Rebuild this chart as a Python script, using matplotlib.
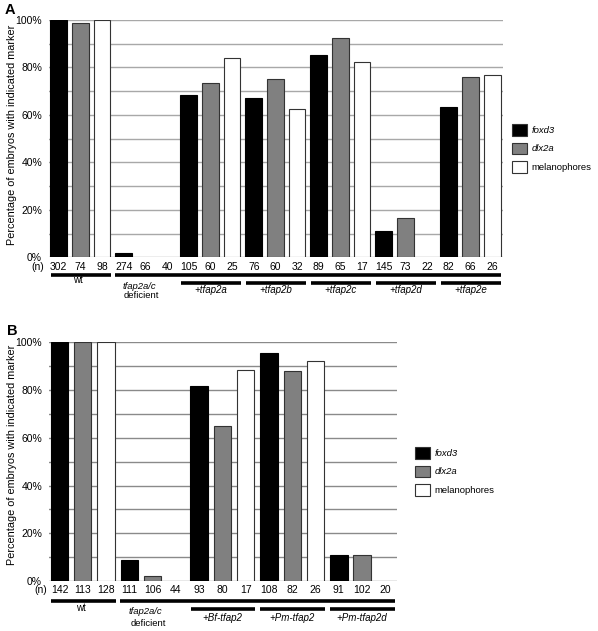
import matplotlib.pyplot as plt
import matplotlib.transforms as mtransforms
from matplotlib.patches import Patch

plt.rcParams['font.family'] = ['Liberation Sans', 'DejaVu Sans']
fs = 7.5

# panel A data (percent of embryos)
groups_a = ['wt', 'tfap2a/c', '+tfap2a', '+tfap2b', '+tfap2c', '+tfap2d', '+tfap2e']
foxd3_a = [100, 1.7, 68.6, 67.1, 85.4, 11.0, 63.4]
dlx2a_a = [98.6, 0, 73.3, 75.0, 92.3, 16.4, 75.8]
mel_a = [100, 0, 84.0, 62.5, 82.4, 0, 76.9]
n_a = [302, 74, 98, 274, 66, 40, 105, 60, 25, 76, 60, 32, 89, 65, 17, 145, 73, 22, 82, 66, 26]

# panel B data
groups_b = ['wt', 'tfap2a/c', '+Bf-tfap2', '+Pm-tfap2', '+Pm-tfap2d']
foxd3_b = [100, 9.0, 81.7, 95.4, 11.0]
dlx2a_b = [100, 1.9, 65.0, 87.8, 10.8]
mel_b = [100, 0, 88.2, 92.3, 0]
n_b = [142, 113, 128, 111, 106, 44, 93, 80, 17, 108, 82, 26, 91, 102, 20]

colors = ['black', '#808080', 'white']
markers = ['foxd3', 'dlx2a', 'melanophores']

W, H = 598, 631
fig = plt.figure(figsize=(W / 100, H / 100), dpi=100)


def px_axes(left, top, right, bottom):
    return fig.add_axes([left / W, 1 - bottom / H, (right - left) / W, (bottom - top) / H])


def panel(ax, groups, series, nvals, width, gridc, offs, hpx, nx, ylab_xy):
    ngroups = len(groups)
    for k, vals in enumerate(series):
        x = [3 * g + k for g in range(ngroups)]
        lw = [0.8 if v > 0 else 0 for v in vals]
        ax.bar(x, vals, width=width, color=colors[k],
               edgecolor='black' if k == 0 else '#333333', linewidth=lw, zorder=3)
    ax.set_xlim(-0.45, 3 * ngroups - 0.5)
    ax.set_ylim(0, 100)
    ax.set_yticks(range(0, 101, 10))
    ax.set_yticklabels([f'{v}%' if v % 20 == 0 else '' for v in range(0, 101, 10)], fontsize=fs)
    ax.tick_params(axis='y', length=0, pad=5)
    ax.set_xticks([])
    ax.grid(axis='y', color=gridc, linewidth=1.0, zorder=0)
    ax.set_axisbelow(True)
    for s in ax.spines.values():
        s.set_visible(False)
    ax.set_ylabel('Percentage of embryos with indicated marker', fontsize=7.8)
    ax.yaxis.set_label_coords(*ylab_xy)

    tr = mtransforms.blended_transform_factory(ax.transData, ax.transAxes)
    f = lambda p: -p / hpx
    for i, n in enumerate(nvals):
        ax.text(i, f(offs['n']), str(n), transform=tr, ha='center', va='center', fontsize=fs)
    ax.text(nx, f(offs['n']), '(n)', transform=tr, ha='right', va='center', fontsize=fs)

    last = 3 * (ngroups - 1) + 2.4
    ax.plot([-0.37, 2.42], [f(offs['l1'])] * 2, transform=tr, color='black', lw=2.6,
            solid_capstyle='butt', clip_on=False)
    ax.plot([2.6, last], [f(offs['l1'])] * 2, transform=tr, color='black', lw=2.6,
            solid_capstyle='butt', clip_on=False)
    ax.text(0.9, f(offs['wt']), 'wt', transform=tr, ha='center', va='center', fontsize=7)
    ax.text(3.7, f(offs['tf']), groups[1], transform=tr, ha='center', va='center',
            fontsize=6.8, style='italic')
    ax.text(3.8, f(offs['dfc']), 'deficient', transform=tr, ha='center', va='center', fontsize=6.8)
    for g in range(2, ngroups):
        ax.plot([3 * g - 0.37, 3 * g + 2.42], [f(offs['l2'])] * 2, transform=tr, color='black',
                lw=2.6, solid_capstyle='butt', clip_on=False)
        ax.text(3 * g + 1, f(offs['sub']), groups[g], transform=tr, ha='center', va='center',
                fontsize=7, style='italic')


def legend(x, y):
    handles = [Patch(facecolor=c, edgecolor='#333333', linewidth=0.8) for c in colors]
    leg = fig.legend(handles, markers, loc='upper left', bbox_to_anchor=(x / W, 1 - y / H),
                     frameon=False, fontsize=6.8, handlelength=1.55, handleheight=1.5,
                     handletextpad=0.55, labelspacing=0.75, borderpad=0, borderaxespad=0)
    for t in leg.get_texts()[:2]:
        t.set_style('italic')


ax_a = px_axes(49, 20, 503, 257.3)
panel(ax_a, groups_a, [foxd3_a, dlx2a_a, mel_a], n_a, 0.77, '#a8a8a8',
      dict(n=9.5, l1=17.3, wt=23, l2=25.8, sub=32.3, tf=29.5, dfc=38.5), 237.3, -0.66,
      (-0.0705, 0.515))
legend(512, 124)

ax_b = px_axes(49, 342.3, 397, 581)
panel(ax_b, groups_b, [foxd3_b, dlx2a_b, mel_b], n_b, 0.75, '#8a8a8a',
      dict(n=9.3, l1=19.7, wt=27, l2=28, sub=37, tf=31, dfc=42), 238.7, -0.52,
      (-0.092, 0.528))
legend(415, 447)

fig.text(5 / W, 1 - 10 / H, 'A', fontsize=10.5, fontweight='bold', va='center')
fig.text(7 / W, 1 - 331 / H, 'B', fontsize=10.5, fontweight='bold', va='center')

plt.savefig('out.png', dpi=100)
